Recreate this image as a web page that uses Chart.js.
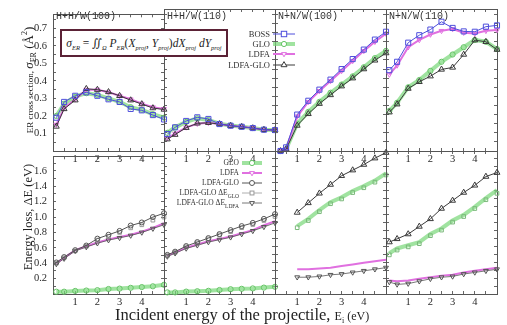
<!DOCTYPE html>
<html><head><meta charset="utf-8">
<script src="https://cdn.jsdelivr.net/npm/chart.js@4.4.0/dist/chart.umd.min.js"></script>
<style>
html,body{margin:0;padding:0;background:#fff;}
#fig{position:relative;width:507px;height:325px;overflow:hidden;font-family:"Liberation Serif","DejaVu Serif",serif;color:#222;}
.pc{position:absolute;}
.t{position:absolute;white-space:nowrap;line-height:1;}
.mono{font-family:"Liberation Mono","DejaVu Sans Mono",monospace;font-size:10px;color:#333;}
.lg{font-size:8.5px;color:#333;text-align:right;}
sub,sup{line-height:0;}
</style></head><body><div id="fig"></div>
<script>
// ---------------- data ----------------
const panelTitles = ['H+H/W(100)', 'H+H/W(110)', 'N+N/W(100)', 'N+N/W(110)'];
const xTicksLabeled = [1, 2, 3, 4];
const xA  = [0.15, 0.5, 1, 1.5, 2, 2.5, 3, 3.5, 4, 4.5, 5];
const xC  = [0.25, 0.5, 1, 1.5, 2, 2.5, 3, 3.5, 4, 4.5, 5];
const xBC = [1, 1.5, 2, 2.5, 3, 3.5, 4, 4.5, 5];

// top row: ER cross section
const p1_boss = [0.19, 0.28, 0.315, 0.335, 0.315, 0.295, 0.28, 0.24, 0.232, 0.205, 0.18];
const p1_glo  = [0.2, 0.27, 0.31, 0.33, 0.32, 0.3, 0.28, 0.25, 0.235, 0.21, 0.19];
const p1_ldfa = [0.15, 0.245, 0.295, 0.35, 0.35, 0.335, 0.315, 0.295, 0.27, 0.25, 0.24];
const p1_lg   = [0.14, 0.24, 0.29, 0.355, 0.35, 0.337, 0.315, 0.29, 0.268, 0.245, 0.237];

const p2_boss = [0.093, 0.13, 0.165, 0.185, 0.176, 0.148, 0.139, 0.133, 0.126, 0.117, 0.115];
const p2_glo  = [0.1, 0.13, 0.16, 0.18, 0.17, 0.15, 0.14, 0.133, 0.126, 0.117, 0.115];
const p2_ldfa = [0.07, 0.095, 0.13, 0.15, 0.155, 0.148, 0.139, 0.133, 0.126, 0.117, 0.115];
const p2_lg   = [0.065, 0.09, 0.128, 0.152, 0.155, 0.148, 0.139, 0.133, 0.126, 0.117, 0.115];

const p3_boss = [0, 0.02, 0.2, 0.276, 0.337, 0.392, 0.45, 0.505, 0.557, 0.612, 0.655];
const p3_glo  = [0, 0.01, 0.15, 0.215, 0.27, 0.32, 0.365, 0.41, 0.46, 0.51, 0.55];
const p3_ldfa = [0, 0.01, 0.19, 0.27, 0.33, 0.385, 0.44, 0.495, 0.55, 0.6, 0.645];
const p3_lg   = [0, 0.01, 0.14, 0.204, 0.26, 0.308, 0.356, 0.4, 0.45, 0.498, 0.538];

const p4_boss = [0.444, 0.49, 0.595, 0.636, 0.667, 0.71, 0.676, 0.657, 0.655, 0.683, 0.69];
const p4_glo  = [0.22, 0.265, 0.35, 0.39, 0.44, 0.49, 0.53, 0.57, 0.61, 0.6, 0.56];
const p4_ldfa = [0.42, 0.47, 0.57, 0.61, 0.64, 0.66, 0.67, 0.65, 0.645, 0.66, 0.665];
const p4_lg   = [0.213, 0.257, 0.343, 0.38, 0.411, 0.448, 0.459, 0.53, 0.609, 0.6, 0.557];

// bottom row: energy loss
const b1_glo  = [0.03, 0.03, 0.04, 0.045, 0.05, 0.065, 0.07, 0.08, 0.09, 0.1, 0.12];
const b1_ldfa = [0.40, 0.47, 0.57, 0.62, 0.67, 0.71, 0.74, 0.77, 0.81, 0.86, 0.92];
const b1_lg   = [0.41, 0.48, 0.57, 0.63, 0.72, 0.77, 0.82, 0.89, 0.93, 1.0, 1.05];
const b1_deg  = [0.40, 0.47, 0.56, 0.62, 0.70, 0.75, 0.80, 0.86, 0.90, 0.96, 1.0];
const b1_del  = [0.39, 0.46, 0.56, 0.61, 0.66, 0.70, 0.73, 0.76, 0.80, 0.85, 0.90];

const b2_glo  = [0.02, 0.02, 0.03, 0.035, 0.04, 0.05, 0.06, 0.065, 0.07, 0.08, 0.09];
const b2_ldfa = [0.48, 0.52, 0.58, 0.62, 0.66, 0.69, 0.72, 0.76, 0.8, 0.86, 0.91];
const b2_lg   = [0.49, 0.53, 0.6, 0.65, 0.7, 0.75, 0.8, 0.85, 0.89, 0.94, 1.0];
const b2_deg  = [0.48, 0.52, 0.59, 0.64, 0.69, 0.74, 0.78, 0.83, 0.87, 0.92, 0.97];
const b2_del  = [0.47, 0.51, 0.57, 0.61, 0.65, 0.68, 0.71, 0.75, 0.79, 0.84, 0.89];

const b3_glo  = [0.85, 0.94, 1.05, 1.15, 1.21, 1.29, 1.35, 1.42, 1.51];
const b3_ldfa = [0.31, 0.31, 0.32, 0.33, 0.35, 0.37, 0.39, 0.41, 0.43];
const b3_lg   = [1.02, 1.14, 1.26, 1.37, 1.48, 1.55, 1.62, 1.70, 1.77];
const b3_deg  = [0.83, 0.92, 1.03, 1.13, 1.19, 1.27, 1.33, 1.4, 1.49];
const b3_del  = [0.21, 0.21, 0.22, 0.24, 0.25, 0.27, 0.29, 0.31, 0.33];

const b4_glo  = [0.51, 0.57, 0.61, 0.65, 0.75, 0.82, 0.92, 0.99, 1.09, 1.2, 1.3];
const b4_ldfa = [0.17, 0.16, 0.17, 0.19, 0.21, 0.23, 0.24, 0.27, 0.29, 0.31, 0.33];
const b4_lg   = [0.65, 0.69, 0.75, 0.845, 0.94, 1.07, 1.17, 1.27, 1.36, 1.47, 1.52];
const b4_deg  = [0.49, 0.55, 0.59, 0.63, 0.73, 0.8, 0.9, 0.97, 1.07, 1.18, 1.26];
const b4_del  = [0.15, 0.12, 0.13, 0.16, 0.19, 0.21, 0.22, 0.25, 0.27, 0.29, 0.31];

// ---------------- layout / style ----------------
const FONT = '"Liberation Serif","DejaVu Serif",serif';
const fig = document.getElementById('fig');
const L = [53, 164, 275, 386], PW = 111;
const T = [9, 151], PH = [142, 143];
const LP = 34, TP = 10, RP = 8, BP = 20;
const YMAX = [0.78, 1.79];
const YSTEP = [0.05, 0.1];

const C_BOSS = '#4f4fdc', C_GLO = 'rgba(120,215,120,0.7)', C_GLOP = '#66c466',
      C_LDFA = '#e070e0', C_LG = '#3a3a3a', C_LGC = '#555555', C_DEG = '#9a9a9a', C_DEL = '#555555';

const STY = {
  boss: {borderColor: C_BOSS, borderWidth: 1, pointStyle: 'rect', pointRadius: 3.6, pointBorderColor: C_BOSS, order: 1},
  glo:  {borderColor: C_GLO, borderWidth: 4, pointStyle: 'circle', pointRadius: 2.6, pointBorderColor: C_GLOP, order: 5},
  ldfa: {borderColor: C_LDFA, borderWidth: 2, pointStyle: 'triangle', pointRotation: 180, pointRadius: 2.8, pointBorderColor: C_LDFA, order: 4},
  lg:   {borderColor: C_LG, borderWidth: 1, pointStyle: 'triangle', pointRadius: 3.4, pointBorderColor: C_LG, order: 2},
  lgc:  {borderColor: C_LGC, borderWidth: 1, pointStyle: 'circle', pointRadius: 2.5, pointBorderColor: C_LGC, order: 2},
  bldfa:{borderColor: C_LDFA, borderWidth: 2, pointRadius: 0, order: 4},
  deg:  {borderColor: 'rgba(0,0,0,0)', borderWidth: 0, pointStyle: 'rect', pointRadius: 2.6, pointBorderColor: C_DEG, order: 3},
  del:  {borderColor: C_DEL, borderWidth: 0.8, pointStyle: 'triangle', pointRotation: 180, pointRadius: 2.8, pointBorderColor: C_DEL, order: 3}
};
function ds(xs, ys, st) {
  return Object.assign({data: xs.map((x, i) => ({x: x, y: ys[i]})), tension: 0, clip: false, fill: false,
    pointBorderWidth: 1, pointBackgroundColor: 'rgba(255,255,255,0)'}, st);
}

const boxPlugin = {id: 'box', beforeDatasetsDraw(chart) {
  const a = chart.chartArea, ctx = chart.ctx;
  ctx.save(); ctx.strokeStyle = '#555'; ctx.lineWidth = 1;
  ctx.strokeRect(Math.round(a.left) + 0.5, Math.round(a.top) + 0.5, Math.round(a.right - a.left), Math.round(a.bottom - a.top));
  ctx.restore();
}};

function yLabel(row, v) {
  if (row === 0) { const r = Math.round(v * 100); return (r % 10 === 0 && r >= 10 && r <= 70) ? (r / 100).toFixed(1) : ''; }
  const r = Math.round(v * 10); return (r % 2 === 0 && r >= 2 && r <= 16) ? (r / 10).toFixed(1) : '';
}

function makeChart(col, row, datasets) {
  const w = LP + PW + RP, h = TP + PH[row] + BP;
  const div = document.createElement('div'); div.className = 'pc';
  div.style.left = (L[col] - LP) + 'px'; div.style.top = (T[row] - TP) + 'px';
  div.style.width = w + 'px'; div.style.height = h + 'px';
  const cv = document.createElement('canvas'); cv.width = w; cv.height = h;
  cv.style.width = w + 'px'; cv.style.height = h + 'px';
  div.appendChild(cv); fig.appendChild(div);
  const gridOpt = {drawOnChartArea: false, tickLength: -3, color: '#666', lineWidth: 1};
  const tickFont = {family: FONT, size: 10.5};
  new Chart(cv, {
    type: 'line',
    data: {datasets: datasets},
    options: {
      responsive: false, animation: false, events: [],
      layout: {padding: {left: 0, right: RP, top: TP, bottom: 0}},
      plugins: {legend: {display: false}, tooltip: {enabled: false}},
      scales: {
        x: {type: 'linear', position: 'bottom', min: 0, max: 5, afterFit: s => { s.height = BP; },
            border: {display: false}, grid: gridOpt,
            ticks: {stepSize: 0.5, autoSkip: false, maxRotation: 0, padding: 5, color: '#2a2a2a', font: tickFont,
                    callback: v => (xTicksLabeled.indexOf(v) >= 0 ? String(v) : '')}},
        xt: {type: 'linear', position: 'top', min: 0, max: 5, afterFit: s => { s.height = 0; },
            border: {display: false}, grid: gridOpt, ticks: {stepSize: 0.5, display: false}},
        y: {type: 'linear', position: 'left', min: 0, max: YMAX[row], afterFit: s => { s.width = LP; },
            border: {display: false}, grid: gridOpt,
            ticks: {display: col === 0, stepSize: YSTEP[row], includeBounds: false, autoSkip: false, padding: 9,
                    color: '#2a2a2a', font: tickFont, callback: v => yLabel(row, v)}},
        yr: {type: 'linear', position: 'right', min: 0, max: YMAX[row], afterFit: s => { s.width = 0; },
            border: {display: false}, grid: gridOpt, ticks: {stepSize: YSTEP[row], includeBounds: false, display: false}}
      }
    },
    plugins: [boxPlugin]
  });
}

// top row
makeChart(0, 0, [ds(xA, p1_glo, STY.glo), ds(xA, p1_ldfa, STY.ldfa), ds(xA, p1_lg, STY.lg), ds(xA, p1_boss, STY.boss)]);
makeChart(1, 0, [ds(xA, p2_glo, STY.glo), ds(xA, p2_ldfa, STY.ldfa), ds(xA, p2_lg, STY.lg), ds(xA, p2_boss, STY.boss)]);
makeChart(2, 0, [ds(xC, p3_glo, STY.glo), ds(xC, p3_ldfa, STY.ldfa), ds(xC, p3_lg, STY.lg), ds(xC, p3_boss, STY.boss)]);
makeChart(3, 0, [ds(xA, p4_glo, STY.glo), ds(xA, p4_ldfa, STY.ldfa), ds(xA, p4_lg, STY.lg), ds(xA, p4_boss, STY.boss)]);
// bottom row
makeChart(0, 1, [ds(xA, b1_glo, STY.glo), ds(xA, b1_ldfa, STY.bldfa), ds(xA, b1_lg, STY.lgc), ds(xA, b1_deg, STY.deg), ds(xA, b1_del, STY.del)]);
makeChart(1, 1, [ds(xA, b2_glo, STY.glo), ds(xA, b2_ldfa, STY.bldfa), ds(xA, b2_lg, STY.lgc), ds(xA, b2_deg, STY.deg), ds(xA, b2_del, STY.del)]);
makeChart(2, 1, [ds(xBC, b3_glo, Object.assign({}, STY.glo, {pointRadius: 0})), ds(xBC, b3_ldfa, STY.bldfa), ds(xBC, b3_lg, STY.lg), ds(xBC, b3_deg, Object.assign({}, STY.deg, {pointBorderColor: '#7ab87a'})), ds(xBC, b3_del, STY.del)]);
makeChart(3, 1, [ds(xA, b4_glo, Object.assign({}, STY.glo, {pointRadius: 0})), ds(xA, b4_ldfa, STY.bldfa), ds(xA, b4_lg, STY.lg), ds(xA, b4_deg, Object.assign({}, STY.deg, {pointBorderColor: '#7ab87a'})), ds(xA, b4_del, STY.del)]);

// ---------------- text & decorations ----------------
function addText(html, css, cls) {
  const d = document.createElement('div'); d.className = 't' + (cls ? ' ' + cls : '');
  d.innerHTML = html; Object.assign(d.style, css); fig.appendChild(d); return d;
}
panelTitles.forEach((s, i) => addText(s, {left: (L[i] + 3) + 'px', top: '12px'}, 'mono'));

// formula box
addText('<i>&sigma;</i><sub style="font-size:6.5px"><i>ER</i></sub> = &#x222C;<sub style="font-size:6.5px"><i>&Omega;</i></sub> <i>P</i><sub style="font-size:6.5px"><i>ER</i></sub>(<i>X</i><sub style="font-size:6.5px"><i>proj</i></sub>, <i>Y</i><sub style="font-size:6.5px"><i>proj</i></sub>)<i>dX</i><sub style="font-size:6.5px"><i>proj</i></sub> <i>dY</i><sub style="font-size:6.5px"><i>proj</i></sub>',
  {left: '60px', top: '29px', width: '164px', height: '24px', border: '2px solid #5b2236', fontSize: '11.5px',
   lineHeight: '24px', textAlign: 'center', background: '#fff', color: '#222'});

// axis titles
addText('ER cross section, <span style="font-size:13px"><i>&sigma;</i><sub style="font-size:8px">ER</sub> (&Aring;<sup style="font-size:8px">2</sup>)</span>',
  {left: '28px', top: '80px', fontSize: '9px', transform: 'translate(-50%,-50%) rotate(-90deg)'});
addText('Energy loss, &Delta;E (eV)',
  {left: '28px', top: '217px', fontSize: '12.5px', transform: 'translate(-50%,-50%) rotate(-90deg)'});
addText('Incident energy of the projectile, <span style="font-size:12px">E<sub style="font-size:8px">i</sub> (eV)</span>',
  {left: '115px', top: '307px', fontSize: '16.5px'});

// legends
const topLegNames = ['BOSS', 'GLO', 'LDFA', 'LDFA-GLO'];
const topLegY = [34, 44, 54, 65];
const topLegSty = [STY.boss, STY.glo, STY.ldfa, STY.lg];
const botLegNames = ['GLO', 'LDFA', 'LDFA-GLO', 'LDFA-GLO &Delta;E<sub style="font-size:5.5px">GLO</sub>', 'LDFA-GLO &Delta;E<sub style="font-size:5.5px">LDFA</sub>'];
const botLegY = [163, 173, 183, 193, 203];
const botLegSty = [STY.glo, STY.ldfa, STY.lgc, Object.assign({}, STY.deg, {borderColor: C_DEG, borderWidth: 0.8}), STY.del];

const NS = 'http://www.w3.org/2000/svg';
const svg = document.createElementNS(NS, 'svg');
svg.setAttribute('width', 507); svg.setAttribute('height', 325);
svg.style.position = 'absolute'; svg.style.left = '0'; svg.style.top = '0';
fig.appendChild(svg);
function mk(tag, attrs) { const e = document.createElementNS(NS, tag); for (const k in attrs) e.setAttribute(k, attrs[k]); svg.appendChild(e); return e; }
function sample(x0, x1, y, st) {
  if (st.borderWidth > 0) mk('line', {x1: x0, y1: y, x2: x1, y2: y, stroke: st.borderColor, 'stroke-width': st.borderWidth});
  const cx = (x0 + x1) / 2, r = st.pointRadius || 0, c = st.pointBorderColor || st.borderColor;
  if (!r) return;
  if (st.pointStyle === 'rect') mk('rect', {x: cx - r * 0.75, y: y - r * 0.75, width: r * 1.5, height: r * 1.5, fill: 'white', stroke: c, 'stroke-width': 1});
  else if (st.pointStyle === 'circle') mk('circle', {cx: cx, cy: y, r: r, fill: 'white', stroke: c, 'stroke-width': 1});
  else if (st.pointStyle === 'triangle') {
    const s = st.pointRotation ? -1 : 1;
    mk('polygon', {points: `${cx},${y - s * r} ${cx - r * 0.87},${y + s * r * 0.5} ${cx + r * 0.87},${y + s * r * 0.5}`, fill: 'white', stroke: c, 'stroke-width': 1});
  }
}
topLegNames.forEach((n, i) => {
  addText(n, {right: (507 - 270) + 'px', top: (topLegY[i] - 4.5) + 'px'}, 'lg');
  sample(273, 295, topLegY[i], topLegSty[i]);
});
botLegNames.forEach((n, i) => {
  addText(n, {right: (507 - 239) + 'px', top: (botLegY[i] - 4.5) + 'px', fontSize: '7.5px'}, 'lg');
  sample(242, 262, botLegY[i], botLegSty[i]);
});
</script>
</body></html>
